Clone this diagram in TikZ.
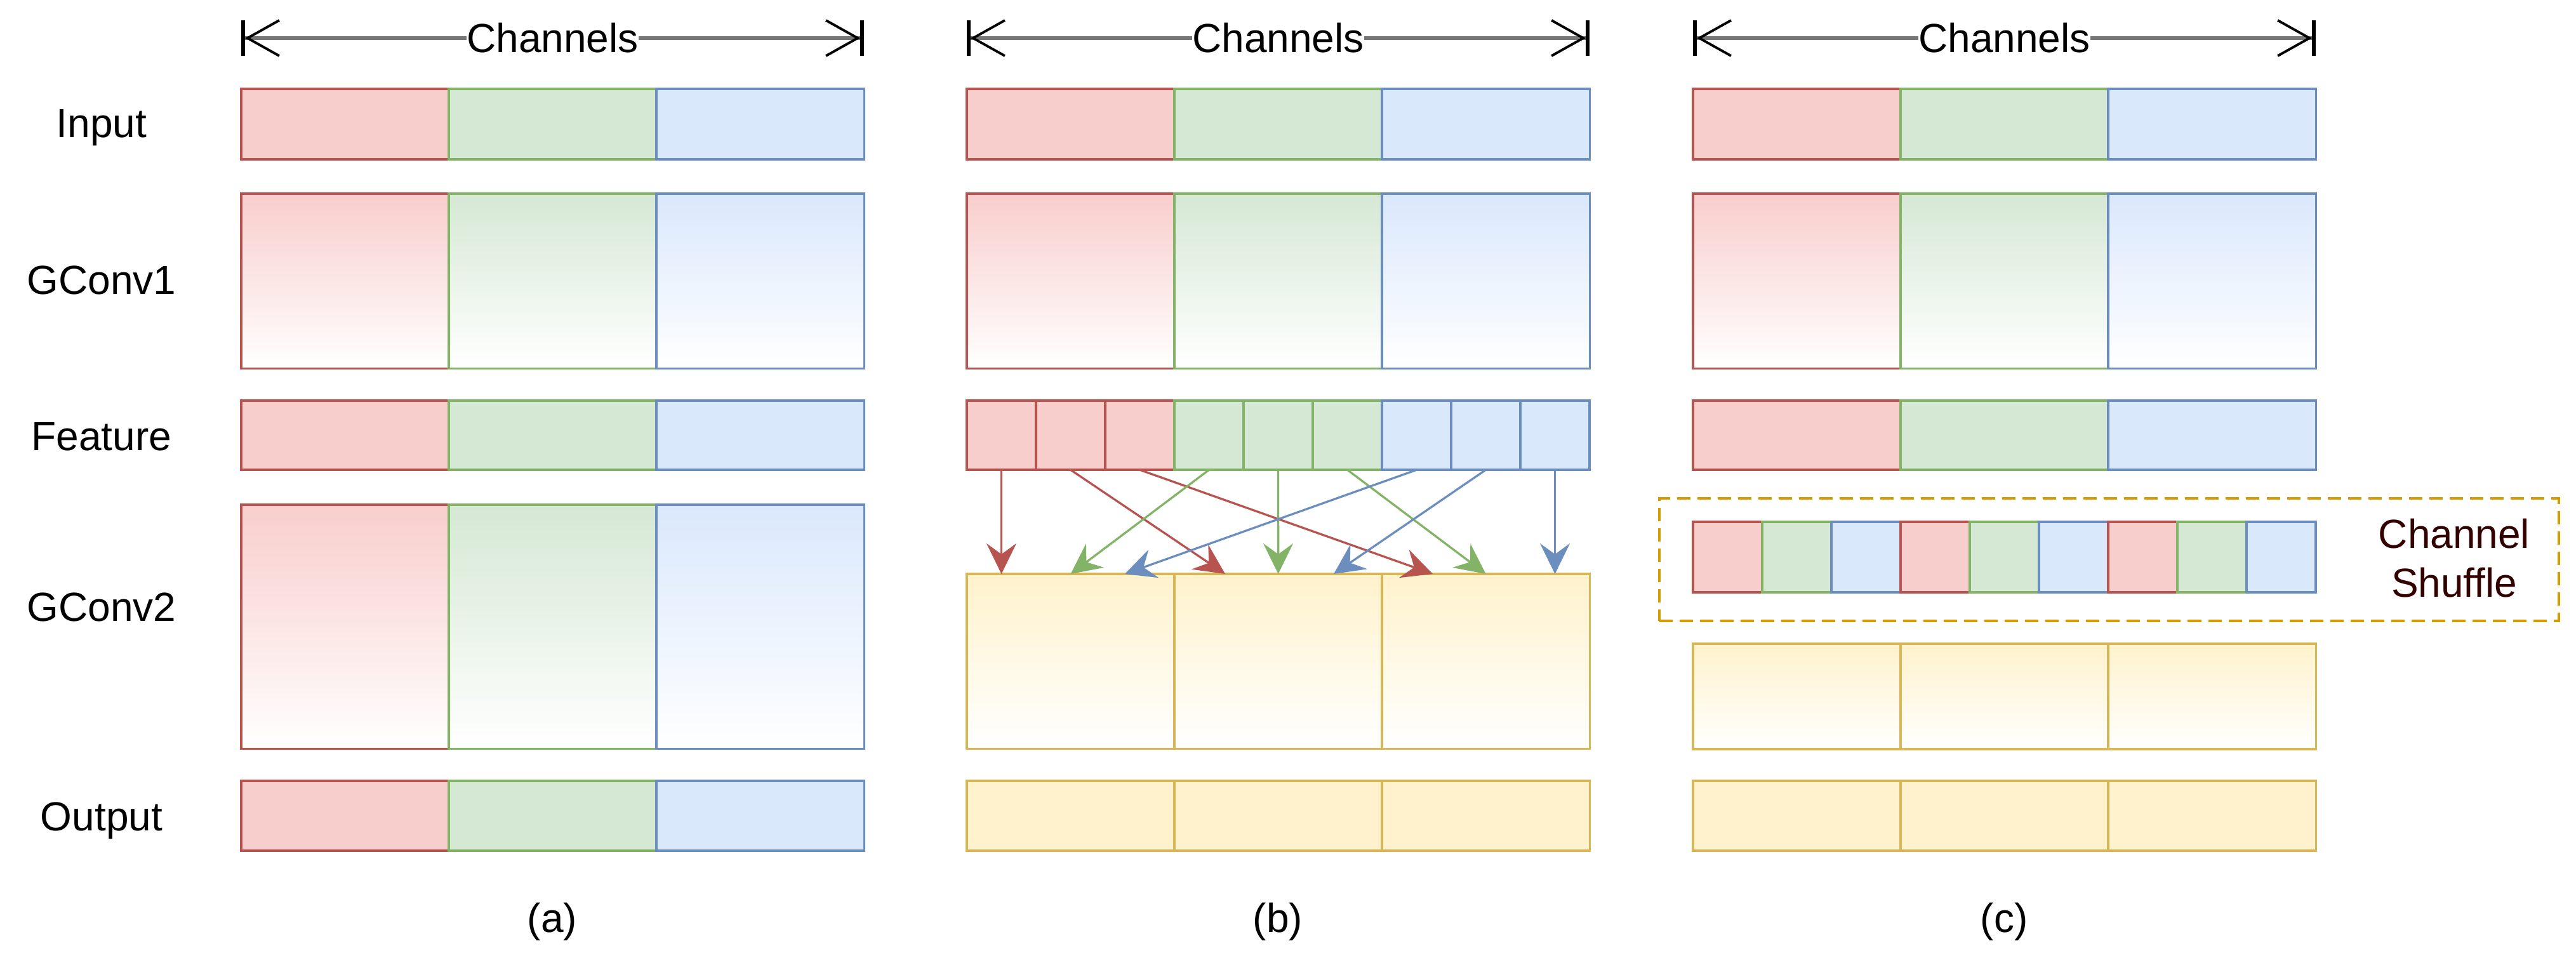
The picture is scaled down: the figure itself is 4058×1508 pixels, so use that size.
\documentclass[tikz,border=0pt]{standalone}
\usepackage{fontspec}
\setmainfont{Liberation Sans}
\usetikzlibrary{arrows.meta,calc}

\definecolor{redfill}{HTML}{F8CECC}
\definecolor{redline}{HTML}{B85450}
\definecolor{greenfill}{HTML}{D5E8D4}
\definecolor{greenline}{HTML}{82B366}
\definecolor{bluefill}{HTML}{DAE8FC}
\definecolor{blueline}{HTML}{6C8EBF}
\definecolor{yellowfill}{HTML}{FFF2CC}
\definecolor{yellowline}{HTML}{D6B656}
\definecolor{shufline}{HTML}{D79B00}
\definecolor{shuftext}{HTML}{330000}
\definecolor{dimgray}{HTML}{777777}

\tikzset{
	cell/.style={draw, inner sep=0pt, outer sep=0pt, anchor=north west, line width=0.94pt, minimum width=3.27cm},
	narrow/.style={minimum width=1.09cm},
	hin/.style={minimum height=1.11cm},
	hconv/.style={minimum height=2.75cm},
	hfeat/.style={minimum height=1.09cm},
	htall/.style={minimum height=3.84cm},
	hlow/.style={minimum height=1.66cm},
	hout/.style={minimum height=1.10cm},
	redcell/.style={cell, draw=redline, fill=redfill},
	greencell/.style={cell, draw=greenline, fill=greenfill},
	bluecell/.style={cell, draw=blueline, fill=bluefill},
	yellowcell/.style={cell, draw=yellowline, fill=yellowfill},
	redgrad/.style={cell, draw=redline, top color=redfill, bottom color=white},
	greengrad/.style={cell, draw=greenline, top color=greenfill, bottom color=white},
	bluegrad/.style={cell, draw=blueline, top color=bluefill, bottom color=white},
	yellowgrad/.style={cell, draw=yellowline, top color=yellowfill, bottom color=white},
	rowlabel/.style={anchor=base, inner sep=0pt, font=\fontsize{18.2}{21.8}\selectfont},
	chlabel/.style={fill=white, inner sep=0pt, font=\fontsize{18.2}{21.8}\selectfont},
	dimline/.style={draw=dimgray, line width=1.9pt,
		{Bar[black,width=0.55cm,line width=1.7pt]Straight Barb[black,length=0.5cm,width=0.56cm,line width=1.1pt]}-{Straight Barb[black,length=0.5cm,width=0.56cm,line width=1.1pt]Bar[black,width=0.55cm,line width=1.7pt]}},
	shufarrow/.style={line width=0.94pt, -{Stealth[length=0.48cm,width=0.47cm,inset=0.17cm]}},
	shufbox/.style={draw=shufline, line width=1.1pt, dash pattern=on 0.21cm off 0.11cm, inner sep=0pt, anchor=north west}
}

\begin{document}
\begin{tikzpicture}[x=0.01cm, y=-0.01cm]
	\useasboundingbox (0,0) rectangle (4058,1508);

	% row labels
	\node[rowlabel] (lin) at (160,216) {Input};
	\node[rowlabel] (lconv1) at (160,463) {GConv1};
	\node[rowlabel] (lfeat) at (160,709) {Feature};
	\node[rowlabel] (lconv2) at (160,978) {GConv2};
	\node[rowlabel] (lout) at (160,1308) {Output};

	% channel arrows
	\coordinate (cha1) at (380,60);
	\coordinate (cha2) at (1361,60);
	\coordinate (chb1) at (1523,60);
	\coordinate (chb2) at (2504,60);
	\coordinate (chc1) at (2667,60);
	\coordinate (chc2) at (3648,60);
	\draw[dimline] (cha1) -- (cha2) node[midway, chlabel] (cha) {Channels};
	\draw[dimline] (chb1) -- (chb2) node[midway, chlabel] (chb) {Channels};
	\draw[dimline] (chc1) -- (chc2) node[midway, chlabel] (chc) {Channels};

	% (a)
	\node[redcell, hin] (ia1) at (380,140) {};
	\node[greencell, hin] (ia2) at (707,140) {};
	\node[bluecell, hin] (ia3) at (1034,140) {};
	\node[redgrad, hconv] (ca1) at (380,305) {};
	\node[greengrad, hconv] (ca2) at (707,305) {};
	\node[bluegrad, hconv] (ca3) at (1034,305) {};
	\node[redcell, hfeat] (fa1) at (380,631) {};
	\node[greencell, hfeat] (fa2) at (707,631) {};
	\node[bluecell, hfeat] (fa3) at (1034,631) {};
	\node[redgrad, htall] (ga1) at (380,795) {};
	\node[greengrad, htall] (ga2) at (707,795) {};
	\node[bluegrad, htall] (ga3) at (1034,795) {};
	\node[redcell, hout] (oa1) at (380,1230) {};
	\node[greencell, hout] (oa2) at (707,1230) {};
	\node[bluecell, hout] (oa3) at (1034,1230) {};
	\node[rowlabel, anchor=center] (capa) at (870,1452) {(a)};

	% (b)
	\node[redcell, hin] (ib1) at (1523,140) {};
	\node[greencell, hin] (ib2) at (1850,140) {};
	\node[bluecell, hin] (ib3) at (2177,140) {};
	\node[redgrad, hconv] (cb1) at (1523,305) {};
	\node[greengrad, hconv] (cb2) at (1850,305) {};
	\node[bluegrad, hconv] (cb3) at (2177,305) {};
	\node[redcell, narrow, hfeat] (fb1) at (1523,631) {};
	\node[redcell, narrow, hfeat] (fb2) at (1632,631) {};
	\node[redcell, narrow, hfeat] (fb3) at (1741,631) {};
	\node[greencell, narrow, hfeat] (fb4) at (1850,631) {};
	\node[greencell, narrow, hfeat] (fb5) at (1959,631) {};
	\node[greencell, narrow, hfeat] (fb6) at (2068,631) {};
	\node[bluecell, narrow, hfeat] (fb7) at (2177,631) {};
	\node[bluecell, narrow, hfeat] (fb8) at (2286,631) {};
	\node[bluecell, narrow, hfeat] (fb9) at (2395,631) {};
	\node[yellowgrad, hconv] (gb1) at (1523,904) {};
	\node[yellowgrad, hconv] (gb2) at (1850,904) {};
	\node[yellowgrad, hconv] (gb3) at (2177,904) {};
	\node[yellowcell, hout] (ob1) at (1523,1230) {};
	\node[yellowcell, hout] (ob2) at (1850,1230) {};
	\node[yellowcell, hout] (ob3) at (2177,1230) {};
	\node[rowlabel, anchor=center] (capb) at (2013,1452) {(b)};

	\draw[shufarrow, redline] (fb1.south) -- (fb1.south |- gb1.north);
	\draw[shufarrow, redline] (fb2.south) -- ($(gb2.north west)+(80,0)$);
	\draw[shufarrow, redline] (fb3.south) -- ($(gb3.north west)+(80,0)$);
	\draw[shufarrow, greenline] (fb4.south) -- (gb1.north);
	\draw[shufarrow, greenline] (fb5.south) -- (gb2.north);
	\draw[shufarrow, greenline] (fb6.south) -- (gb3.north);
	\draw[shufarrow, blueline] (fb7.south) -- ($(gb1.north west)+(249,0)$);
	\draw[shufarrow, blueline] (fb8.south) -- ($(gb2.north west)+(251,0)$);
	\draw[shufarrow, blueline] (fb9.south) -- (fb9.south |- gb3.north);

	% (c)
	\node[redcell, hin] (ic1) at (2667,140) {};
	\node[greencell, hin] (ic2) at (2994,140) {};
	\node[bluecell, hin] (ic3) at (3321,140) {};
	\node[redgrad, hconv] (cc1) at (2667,305) {};
	\node[greengrad, hconv] (cc2) at (2994,305) {};
	\node[bluegrad, hconv] (cc3) at (3321,305) {};
	\node[redcell, hfeat] (fc1) at (2667,631) {};
	\node[greencell, hfeat] (fc2) at (2994,631) {};
	\node[bluecell, hfeat] (fc3) at (3321,631) {};
	\node[shufbox, minimum width=14.16cm, minimum height=1.93cm] (shuf) at (2612,783) {};
	\node[redcell, narrow, hin] (sc1) at (2667,822) {};
	\node[greencell, narrow, hin] (sc2) at (2776,822) {};
	\node[bluecell, narrow, hin] (sc3) at (2885,822) {};
	\node[redcell, narrow, hin] (sc4) at (2994,822) {};
	\node[greencell, narrow, hin] (sc5) at (3103,822) {};
	\node[bluecell, narrow, hin] (sc6) at (3212,822) {};
	\node[redcell, narrow, hin] (sc7) at (3321,822) {};
	\node[greencell, narrow, hin] (sc8) at (3430,822) {};
	\node[bluecell, narrow, hin] (sc9) at (3539,822) {};
	\node[rowlabel, anchor=center, align=center, text=shuftext] (shuftxt) at (3866,879) {Channel\\Shuffle};
	\node[yellowgrad, hlow] (gc1) at (2667,1014) {};
	\node[yellowgrad, hlow] (gc2) at (2994,1014) {};
	\node[yellowgrad, hlow] (gc3) at (3321,1014) {};
	\node[yellowcell, hout] (oc1) at (2667,1230) {};
	\node[yellowcell, hout] (oc2) at (2994,1230) {};
	\node[yellowcell, hout] (oc3) at (3321,1230) {};
	\node[rowlabel, anchor=center] (capc) at (3157,1452) {(c)};
\end{tikzpicture}
\end{document}
